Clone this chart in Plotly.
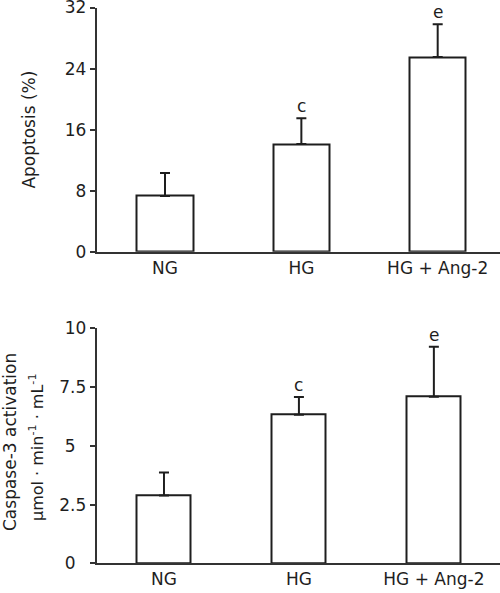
import plotly.graph_objects as go

categories = ["NG", "HG", "HG + Ang-2"]
apoptosis_mean = [7.3, 14.1, 25.5]
apoptosis_err = [3.0, 3.4, 4.3]
apoptosis_sig = ["", "c", "e"]
caspase_mean = [2.88, 6.32, 7.09]
caspase_err = [0.98, 0.76, 2.13]
caspase_sig = ["", "c", "e"]
apoptosis_ticks = [0, 8, 16, 24, 32]
caspase_ticks = [0, 2.5, 5, 7.5, 10]
caspase_ticktext = ["0\u2007", "2.5", "5\u2007", "7.5", "10"]

W, H = 500, 593
FONT = "DejaVu Sans"
INK = "#1e1e1e"
FS = 17

fig = go.Figure()
fig.add_trace(go.Bar(
    x=categories, y=apoptosis_mean, width=0.415,
    marker=dict(color="white", line=dict(color=INK, width=2)),
    error_y=dict(type="data", array=apoptosis_err, arrayminus=[0, 0, 0], symmetric=False,
                 color=INK, thickness=2, width=5),
    xaxis="x", yaxis="y", showlegend=False))
fig.add_trace(go.Bar(
    x=categories, y=caspase_mean, width=0.40,
    marker=dict(color="white", line=dict(color=INK, width=2)),
    error_y=dict(type="data", array=caspase_err, arrayminus=[0, 0, 0], symmetric=False,
                 color=INK, thickness=2, width=5),
    xaxis="x2", yaxis="y2", showlegend=False))

annotations = []
for c, m, e, s in zip(categories, apoptosis_mean, apoptosis_err, apoptosis_sig):
    if s:
        annotations.append(dict(x=c, y=m + e, xref="x", yref="y", text=s, showarrow=False,
                                xanchor="center", yanchor="middle", yshift=12,
                                font=dict(family=FONT, size=FS, color=INK)))
for c, m, e, s in zip(categories, caspase_mean, caspase_err, caspase_sig):
    if s:
        annotations.append(dict(x=c, y=m + e, xref="x2", yref="y2", text=s, showarrow=False,
                                xanchor="center", yanchor="middle", yshift=12,
                                font=dict(family=FONT, size=FS, color=INK)))

top_dom = [1 - 251.7 / H, 1 - 7.5 / H]
bot_dom = [1 - 563.3 / H, 1 - 328.3 / H]
annotations.append(dict(x=29 / W, y=sum(top_dom) / 2, xref="paper", yref="paper",
                        text="Apoptosis (%)", textangle=-90, showarrow=False,
                        xanchor="center", yanchor="middle",
                        font=dict(family=FONT, size=FS, color=INK)))
annotations.append(dict(x=10 / W, y=1 - 442 / H, xref="paper", yref="paper",
                        text="Caspase-3 activation", textangle=-90, showarrow=False,
                        xanchor="center", yanchor="middle",
                        font=dict(family=FONT, size=FS, color=INK)))
annotations.append(dict(x=36 / W, y=1 - 447 / H, xref="paper", yref="paper",
                        text="μmol · min<sup>-1</sup> · mL<sup>-1</sup>", textangle=-90, showarrow=False,
                        xanchor="center", yanchor="middle",
                        font=dict(family=FONT, size=FS - 1, color=INK)))

xdom = [96.5 / W, 1.0]
axfont = dict(family=FONT, size=FS, color=INK)
common_x = dict(showline=True, linecolor="#333", linewidth=1.5, ticks="", showgrid=False,
                zeroline=False, tickfont=axfont, automargin=False, ticklabeloverflow="allow")
common_y = dict(showline=True, linecolor="#333", linewidth=1.5, ticks="outside", ticklen=5,
                tickwidth=1.5, tickcolor="#333", showgrid=False, zeroline=False, tickfont=axfont,
                automargin=False, ticklabeloverflow="allow")
fig.update_layout(
    width=W, height=H,
    margin=dict(l=0, r=0, t=0, b=0),
    paper_bgcolor="white", plot_bgcolor="white",
    font=dict(family=FONT, size=FS, color=INK),
    bargap=0,
    xaxis=dict(domain=xdom, anchor="y", range=[-0.5026, 2.457], **common_x),
    yaxis=dict(domain=top_dom, anchor="x", range=[0, 32], tickvals=apoptosis_ticks, **common_y),
    xaxis2=dict(domain=xdom, anchor="y2", range=[-0.50, 2.49], **common_x),
    yaxis2=dict(domain=bot_dom, anchor="x2", range=[0, 10], tickvals=caspase_ticks,
                ticktext=caspase_ticktext, **common_y),
    annotations=annotations,
)

fig.write_html("out.html", config={"displayModeBar": False},
               post_script="document.body.style.margin='0';document.body.style.overflow='hidden';")
